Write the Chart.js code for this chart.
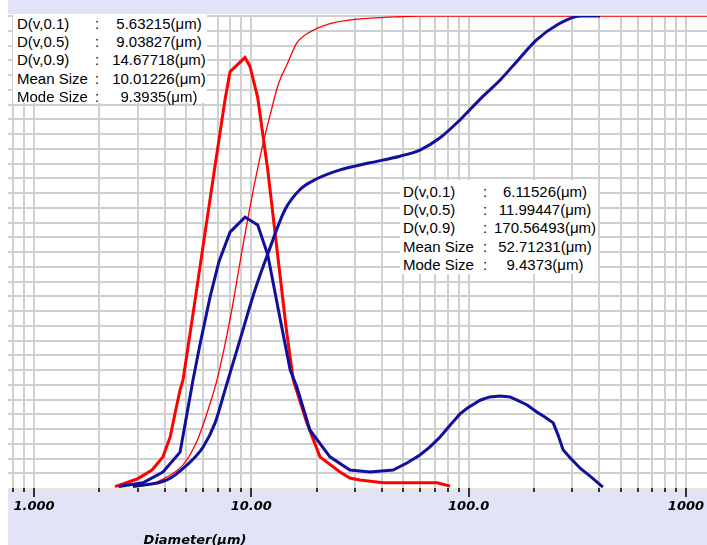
<!DOCTYPE html>
<html>
<head>
<meta charset="utf-8">
<script src="https://cdn.jsdelivr.net/npm/chart.js@4.4.1/dist/chart.umd.min.js"></script>
<style>
html,body{margin:0;padding:0;background:#fff;}
#wrap{position:relative;width:707px;height:545px;overflow:hidden;background:#fff;}
.band{position:absolute;left:8px;width:699px;background:#e3e3f7;}
#topband{top:0;height:14px;}
#botband{top:488px;height:57px;}
canvas{position:absolute;left:0;top:0;}
.box{position:absolute;background:#fff;font-family:"Liberation Sans",Arial,sans-serif;font-size:15px;color:#000;}
.row{position:relative;height:18.2px;line-height:18.2px;white-space:nowrap;}
.row span{position:absolute;top:0;}
.val{transform:translateX(-50%);}
#box1{left:13px;top:14px;width:194px;height:89px;padding-top:1px;box-sizing:border-box;}
#box1 .lab{left:4px;} #box1 .col{left:82px;} #box1 .val{left:146px;}
#box2{left:400px;top:180px;width:198px;height:94px;padding-top:3px;box-sizing:border-box;}
#box2 .lab{left:3px;} #box2 .col{left:83px;} #box2 .val{left:145px;}
#xtitle{position:absolute;left:195px;top:539px;transform:translate(-50%,-50%);font:italic bold 13px "DejaVu Sans",sans-serif;color:#000;white-space:nowrap;}
</style>
</head>
<body>
<div id="wrap">
  <div class="band" id="topband"></div>
  <div class="band" id="botband"></div>
  <canvas id="c" width="707" height="545"></canvas>
  <div class="box" id="box1"></div>
  <div class="box" id="box2"></div>
  <div id="xtitle">Diameter(μm)</div>
</div>
<script>
// ---- axis ticks ----
const xGridValues = [0.8,0.9,1,2,3,4,5,6,7,8,9,10,20,30,40,50,60,70,80,90,100,200,300,400,500,600,700,800,900,1000];
const xLabelValues = [1,10,100,1000];
const xLabelTexts = ['1.000','10.00','100.0','1000'];
const xTitle = 'Diameter(μm)';

// ---- sample 1 (red) ----
const redFreqSize = [2.36,2.98,3.49,3.92,4.23,4.46,4.70,4.85,5.51,6.12,6.81,7.57,7.98,9.35,9.86,10.7,11.9,13.3,14.5,15.6,18.0,20.7,25.6,28.4,31.6,40.4,71.6,82.1];
const redFreqVal  = [0.3,1.9,3.8,6.6,10.8,15.9,20.8,22.9,39.8,54.0,68.3,82.3,88.2,91.2,89.3,82.7,67.4,48.3,33.5,22.9,13.8,6.6,3.4,2.1,1.7,1.1,1.1,0.4];
const redCumSize  = [2.9,3.5,4.0,4.85,5.63,6.46,6.95,8.0,9.04,10.0,11.2,12.2,13.3,14.68,16.2,18.6,23.0,30.0,45.0,60.0,1250];
const redCumVal   = [0.3,0.9,2.1,4.9,10.0,17.9,22.9,36.0,50.0,61.0,72.0,79.0,85.5,90.0,94.3,96.6,98.4,99.3,99.8,100,100];

// ---- sample 2 (blue) ----
const blueFreqSize = [2.45,3.17,3.92,4.70,5.22,5.39,5.81,6.46,7.1,7.98,9.35,10.7,11.9,13.6,15.1,16.2,18.6,23.0,28.4,35.2,44.9,52.0,59.7,66.4,73.9,82.1,91.3,98.4,113,125,140,155,167,186,206,225,245,258,272,293,326,362,415];
const blueFreqVal  = [0.3,1.1,3.4,7.6,19.3,22.9,30.5,40.5,48.0,54.2,57.4,55.7,49.4,35.6,25.0,21.4,12.3,6.6,3.8,3.4,3.8,5.3,7.0,8.7,10.8,13.3,15.7,16.9,18.6,19.3,19.5,19.3,18.6,17.6,16.1,15.0,13.8,11.2,8.1,6.4,4.2,2.5,0.2];
const blueCumSize  = [2.85,4.09,5.06,6.0,6.81,7.57,7.81,8.87,10.4,11.99,14.3,16.8,19.6,25.6,35.2,48.3,59.7,73.9,91.3,113,140,169,206,255,326,403];
const blueCumVal   = [0.3,1.7,4.9,8.7,13.8,20.8,22.9,31.4,42.0,50.0,59.0,63.3,65.3,67.4,68.9,70.3,71.6,74.2,78.0,82.4,86.5,90.7,95.0,98.1,100,100];

// ---- statistics text ----
const statLabels = ['D(v,0.1)','D(v,0.5)','D(v,0.9)','Mean Size','Mode Size'];
const redStats  = ['5.63215(μm)','9.03827(μm)','14.67718(μm)','10.01226(μm)','9.3935(μm)'];
const blueStats = ['6.11526(μm)','11.99447(μm)','170.56493(μm)','52.71231(μm)','9.4373(μm)'];

function fillBox(id, vals){
  const box = document.getElementById(id);
  statLabels.forEach((l,i)=>{
    const r = document.createElement('div'); r.className='row';
    const a = document.createElement('span'); a.className='lab'; a.textContent=l;
    const b = document.createElement('span'); b.className='col'; b.textContent=':';
    const c = document.createElement('span'); c.className='val'; c.textContent=vals[i];
    r.append(a,b,c); box.appendChild(r);
  });
}
fillBox('box1', redStats);
fillBox('box2', blueStats);
document.getElementById('xtitle').textContent = xTitle;

const pts = (xs, ys) => xs.map((x,i)=>({x:x, y:ys[i]}));

const tickMarks = {
  id:'tickMarks',
  afterDraw(chart){
    const xs = chart.scales.x, ctx = chart.ctx, b = chart.chartArea.bottom;
    ctx.save(); ctx.strokeStyle='#333'; ctx.lineWidth=2;
    xGridValues.forEach(v=>{
      const px = Math.round(xs.getPixelForValue(v));
      const len = xLabelValues.includes(v) ? 9 : 4;
      ctx.beginPath(); ctx.moveTo(px, b); ctx.lineTo(px, b+len); ctx.stroke();
    });
    ctx.restore();
  }
};

const RED = '#ff0000', BLUE = '#10109c';
new Chart(document.getElementById('c'), {
  type:'line',
  data:{datasets:[
    {data:pts(blueCumSize, blueCumVal), borderColor:BLUE, borderWidth:3, cubicInterpolationMode:'monotone'},
    {data:pts(blueFreqSize, blueFreqVal), borderColor:BLUE, borderWidth:3},
    {data:pts(redCumSize, redCumVal), borderColor:RED, borderWidth:1.3, cubicInterpolationMode:'monotone'},
    {data:pts(redFreqSize, redFreqVal), borderColor:RED, borderWidth:3}
  ]},
  options:{
    responsive:false, animation:false,
    layout:{padding:{left:8,right:0,top:16,bottom:0}},
    elements:{point:{radius:0}, line:{tension:0, fill:false}},
    plugins:{legend:{display:false}, tooltip:{enabled:false}},
    scales:{
      x:{
        type:'logarithmic', min:0.759, max:1250,
        afterBuildTicks:(s)=>{ s.ticks = xGridValues.map(v=>({value:v})); },
        afterFit:(s)=>{ s.height = 57; s.paddingLeft = 0; s.paddingRight = 0; },
        grid:{color:'#cfcfcf', lineWidth:2, drawTicks:false},
        border:{display:false},
        ticks:{
          autoSkip:false, maxRotation:0, minRotation:0, padding:11, color:'#000',
          font:{family:'"DejaVu Sans", sans-serif', size:13, weight:'bold', style:'italic'},
          callback:(v)=>{ const i = xLabelValues.indexOf(v); return i>=0 ? xLabelTexts[i] : ''; }
        }
      },
      y:{
        type:'linear', min:0, max:100,
        afterFit:(s)=>{ s.width = 0; },
        ticks:{display:false, stepSize:3.125},
        grid:{drawTicks:false, color:(c)=> c.tick && c.tick.value===0 ? '#ecead0' : '#cfcfcf',
              lineWidth:(c)=> c.tick && c.tick.value===0 ? 1 : 2},
        border:{display:false}
      }
    }
  },
  plugins:[tickMarks]
});
</script>
</body>
</html>
